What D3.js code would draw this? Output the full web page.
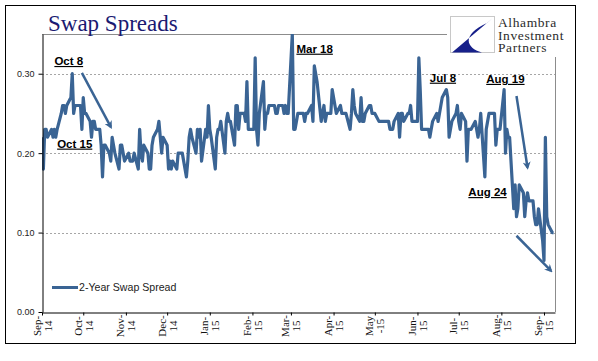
<!DOCTYPE html>
<html>
<head>
<meta charset="utf-8">
<script src="https://cdnjs.cloudflare.com/ajax/libs/d3/7.8.5/d3.min.js"></script>
<style>
body { margin: 0; background: #fff; }
svg { display: block; }
</style>
</head>
<body>
<svg id="chart"></svg>
<script>
var width = 598, height = 361
var margin = {top: 34, right: 43, bottom: 49, left: 42}
var lineColor = "#3a6494"

// daily 2-year swap spread, one row per week (Mon..Fri), starting Mon Sep 1 2014
var startDate = "2014-09-01"
var endDate = "2015-09-09"
var weeklySpread = [
    [0.22, 0.18, 0.23, 0.23, 0.22],
    [0.23, 0.22, 0.23, 0.22, 0.23],
    [0.25, 0.26, 0.26, 0.25, 0.26],
    [0.27, 0.30, 0.25, 0.26, 0.26],
    [0.26, 0.23, 0.27, 0.25, 0.25],
    [0.24, 0.22, 0.24, 0.24, 0.23],
    [0.23, 0.21, 0.17, 0.21, 0.21],
    [0.20, 0.19, 0.22, 0.21, 0.20],
    [0.18, 0.21, 0.21, 0.20, 0.19],
    [0.20, 0.19, 0.19, 0.19, 0.20],
    [0.18, 0.23, 0.20, 0.19, 0.21],
    [0.20, 0.18, 0.18, 0.21, 0.22],
    [0.23, 0.24, 0.22, 0.20, 0.22],
    [0.21, 0.18, 0.19, 0.18, 0.19],
    [0.18, 0.20, 0.20, 0.20, 0.20],
    [0.17, 0.19, 0.22, 0.23, 0.22],
    [0.20, 0.23, 0.22, 0.23, 0.19],
    [0.23, 0.22, 0.26, 0.23, 0.22],
    [0.18, 0.22, 0.23, 0.23, 0.24],
    [0.20, 0.24, 0.25, 0.24, 0.24],
    [0.21, 0.26, 0.26, 0.23, 0.25],
    [0.25, 0.24, 0.29, 0.23, 0.23],
    [0.23, 0.32, 0.23, 0.21, 0.25],
    [0.29, 0.23, 0.25, 0.25, 0.26],
    [0.26, 0.26, 0.25, 0.25, 0.26],
    [0.26, 0.25, 0.26, 0.25, 0.25],
    [0.35, 0.23, 0.23, 0.24, 0.25],
    [0.25, 0.25, 0.24, 0.25, 0.25],
    [0.26, 0.24, 0.31, 0.30, 0.29],
    [0.24, 0.25, 0.26, 0.24, 0.25],
    [0.25, 0.28, 0.27, 0.26, 0.25],
    [0.26, 0.25, 0.25, 0.25, 0.25],
    [0.23, 0.25, 0.28, 0.26, 0.25],
    [0.24, 0.27, 0.24, 0.24, 0.25],
    [0.26, 0.26, 0.25, 0.25, 0.25],
    [0.24, 0.24, 0.24, 0.24, 0.24],
    [0.24, 0.23, 0.23, 0.23, 0.24],
    [0.25, 0.22, 0.25, 0.25, 0.24],
    [0.25, 0.25, 0.26, 0.24, 0.24],
    [0.24, 0.32, 0.28, 0.23, 0.23],
    [0.23, 0.23, 0.22, 0.23, 0.24],
    [0.25, 0.24, 0.25, 0.26, 0.27],
    [0.28, 0.27, 0.22, 0.23, 0.24],
    [0.25, 0.26, 0.24, 0.23, 0.25],
    [0.24, 0.19, 0.23, 0.23, 0.23],
    [0.24, 0.23, 0.22, 0.23, 0.25],
    [0.17, 0.23, 0.24, 0.25, 0.25],
    [0.25, 0.21, 0.23, 0.23, 0.23],
    [0.28, 0.20, 0.23, 0.22, 0.22],
    [0.13, 0.16, 0.12, 0.13, 0.16],
    [0.15, 0.12, 0.14, 0.15, 0.14],
    [0.14, 0.12, 0.11, 0.11, 0.13],
    [0.09, 0.065, 0.22, 0.12, 0.11],
    [0.10, 0.10]
]

var yTicks = [0, 0.10, 0.20, 0.30]
var monthTicks = ["2014-09-01", "2014-10-01", "2014-11-01", "2014-12-01", "2015-01-01",
    "2015-02-01", "2015-03-01", "2015-04-01", "2015-05-01", "2015-06-01",
    "2015-07-01", "2015-08-01", "2015-09-01"]
var monthLabels = [["Sep-", "14"], ["Oct-", "14"], ["Nov-", "14"], ["Dec-", "14"], ["Jan-", "15"],
    ["Feb-", "15"], ["Mar-", "15"], ["Apr-", "15"], ["May", "-15"], ["Jun-", "15"],
    ["Jul-", "15"], ["Aug-", "15"], ["Sep-", "15"]]

// callouts, placed in data space
var noteText = ["Oct 8", "Oct 15", "Mar 18", "Jul 8", "Aug 19", "Aug 24"]
var noteDate = ["2014-09-10", "2014-09-12", "2015-03-05", "2015-06-10", "2015-07-21", "2015-07-08"]
var noteValue = [0.311, 0.207, 0.3265, 0.290, 0.2885, 0.146]
var arrowFrom = [["2014-09-30", 0.301], ["2015-08-12", 0.272], ["2015-08-12", 0.096]]
var arrowTo = [["2014-10-21", 0.233], ["2015-08-20", 0.182], ["2015-09-06", 0.052]]

var parse = d3.utcParse("%Y-%m-%d")
var start = parse(startDate)
var series = []
weeklySpread.forEach(function (week, w) {
    week.forEach(function (v, k) {
        series.push({date: d3.utcDay.offset(start, 7 * w + k), value: v})
    })
})

var svg = d3.select("#chart").attr("width", width).attr("height", height)

var x = d3.scaleUtc().domain([start, parse(endDate)]).range([margin.left, width - margin.right])
var y = d3.scaleLinear().domain([0, 0.35]).range([height - margin.bottom, margin.top])

// outer frame
svg.append("rect").attr("x", 5.5).attr("y", 5.5).attr("width", 570).attr("height", 338)
    .attr("fill", "#fff").attr("stroke", "#000").attr("stroke-width", 1)

// plot border (top / right, grey)
svg.append("path")
    .attr("d", "M" + margin.left + "," + (margin.top + 0.5) + "H" + (width - margin.right + 0.5) + "V" + (height - margin.bottom))
    .attr("fill", "none").attr("stroke", "#8c8c8c").attr("stroke-width", 1)

// gridlines
svg.append("g").selectAll("line")
    .data(yTicks.filter(function (d) { return d > 0 }))
    .enter().append("line")
    .attr("x1", margin.left).attr("x2", width - margin.right)
    .attr("y1", function (d) { return Math.round(y(d)) + 0.5 })
    .attr("y2", function (d) { return Math.round(y(d)) + 0.5 })
    .attr("stroke", "#a6a6a6").attr("stroke-dasharray", "2,2")

svg.append("clipPath").attr("id", "plotclip").append("rect")
    .attr("x", margin.left).attr("y", margin.top)
    .attr("width", width - margin.right - margin.left).attr("height", height - margin.bottom - margin.top)

// the series
svg.append("path")
    .datum(series)
    .attr("clip-path", "url(#plotclip)")
    .attr("fill", "none")
    .attr("stroke", lineColor)
    .attr("stroke-width", 3.2)
    .attr("stroke-linejoin", "round")
    .attr("d", d3.line()
        .x(function (d) { return x(d.date) })
        .y(function (d) { return y(d.value) }))

// y axis
var yAxis = svg.append("g")
    .attr("transform", "translate(" + (margin.left + 0.5) + ",0)")
    .call(d3.axisLeft(y).tickValues(yTicks).tickFormat(d3.format(".2f")).tickSize(4).tickSizeOuter(0).tickPadding(4))
yAxis.selectAll("text").style("font-family", "'Liberation Sans', Arial, sans-serif").style("font-size", "9px").attr("fill", "#222")
yAxis.selectAll("line, path").attr("stroke", "#000")

// x axis
var ticks = monthTicks.map(parse)
var xAxis = svg.append("g")
    .attr("transform", "translate(0," + (height - margin.bottom + 0.5) + ")")
    .call(d3.axisBottom(x).tickValues(ticks).tickFormat("").tickSize(3).tickSizeOuter(0))
xAxis.selectAll("line, path").attr("stroke", "#000")

var labels = svg.append("g")
    .selectAll("text")
    .data(ticks)
    .enter().append("text")
    .attr("transform", function (d) { return "translate(" + x(d) + ",326) rotate(-90)" })
    .attr("text-anchor", "middle")
    .style("font-family", "'Liberation Serif', 'Times New Roman', serif")
    .style("font-size", "11px")
    .attr("fill", "#111")
labels.append("tspan").attr("x", 0).attr("y", -1.5).text(function (d, i) { return monthLabels[i][0] })
labels.append("tspan").attr("x", 0).attr("y", 9.5).text(function (d, i) { return monthLabels[i][1] })

// arrows
svg.append("defs").append("marker")
    .attr("id", "head").attr("viewBox", "0 0 10 10")
    .attr("refX", 7).attr("refY", 5)
    .attr("markerWidth", 3.2).attr("markerHeight", 3.2)
    .attr("orient", "auto")
    .append("path").attr("d", "M0,0L10,5L0,10L3,5Z").attr("fill", lineColor)

svg.append("g").selectAll("line")
    .data(arrowFrom)
    .enter().append("line")
    .attr("x1", function (d) { return x(parse(d[0])) })
    .attr("y1", function (d) { return y(d[1]) })
    .attr("x2", function (d, i) { return x(parse(arrowTo[i][0])) })
    .attr("y2", function (d, i) { return y(arrowTo[i][1]) })
    .attr("stroke", lineColor).attr("stroke-width", 2.5)
    .attr("marker-end", "url(#head)")

// callout labels
svg.append("g").selectAll("text")
    .data(noteText)
    .enter().append("text")
    .attr("x", function (d, i) { return x(parse(noteDate[i])) })
    .attr("y", function (d, i) { return y(noteValue[i]) })
    .style("font-family", "'Liberation Sans', Arial, sans-serif")
    .style("font-size", "11.5px")
    .style("font-weight", "bold")
    .style("text-decoration", "underline")
    .attr("fill", "#000")
    .text(function (d) { return d })

// legend
svg.append("line").attr("x1", 52).attr("x2", 78).attr("y1", 287.5).attr("y2", 287.5)
    .attr("stroke", lineColor).attr("stroke-width", 3)
svg.append("text").attr("x", 79).attr("y", 291)
    .style("font-family", "'Liberation Sans', Arial, sans-serif").style("font-size", "10.6px")
    .attr("fill", "#222").text("2-Year Swap Spread")

// title
svg.append("text").attr("x", 48).attr("y", 31)
    .style("font-family", "'Liberation Serif', 'Times New Roman', serif").style("font-size", "23px")
    .attr("fill", "#1a1a72").text("Swap Spreads")

// logo
svg.append("rect").attr("x", 447).attr("y", 9).attr("width", 127).attr("height", 48).attr("fill", "#fff")
svg.append("rect").attr("x", 450.5).attr("y", 16.5).attr("width", 44).attr("height", 36)
    .attr("fill", "#fff").attr("stroke", "#c8c8c8")
svg.append("path").attr("d", "M494,17L452,52.5L482,52.5C466,48 461,35 487,23Z").attr("fill", "#17208a")
var logoText = ["Alhambra", "Investment", "Partners"]
svg.append("g").selectAll("text")
    .data(logoText)
    .enter().append("text")
    .attr("x", 498).attr("y", function (d, i) { return 27 + i * 12.5 })
    .style("font-family", "'Liberation Serif', 'Times New Roman', serif").style("font-size", "13.5px")
    .style("letter-spacing", "0.6px")
    .attr("fill", "#2b2b2b").text(function (d) { return d })
</script>
</body>
</html>
